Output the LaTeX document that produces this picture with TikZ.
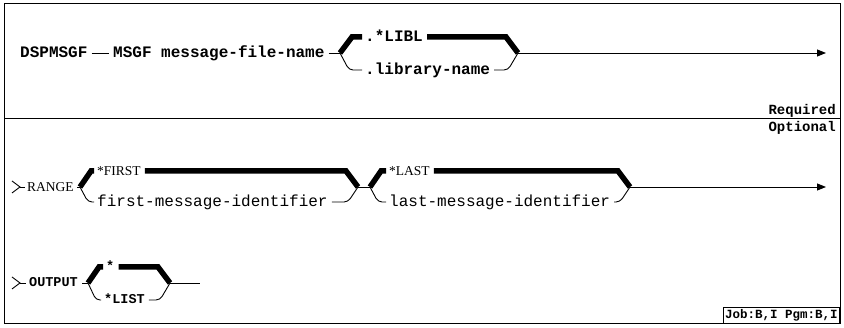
\documentclass[tikz,border=0pt]{standalone}
\usepackage{fontspec}
\setmonofont{Liberation Mono}
\newfontfamily\serifb{Liberation Serif}
\usetikzlibrary{arrows.meta}
\begin{document}
\begin{tikzpicture}[x=1pt,y=-1pt,
  lbl/.style={font=\ttfamily\bfseries\fontsize{16}{16}\selectfont, inner sep=0pt, anchor=west, text height=9pt, text depth=0pt},
  lbllight/.style={font=\ttfamily\fontsize{16}{16}\selectfont, inner sep=0pt, anchor=west, text height=9pt, text depth=0pt},
  lblsm/.style={font=\ttfamily\bfseries\fontsize{13.5}{13.5}\selectfont, inner sep=0pt, anchor=west, text height=8pt, text depth=0pt},
  slbl/.style={font=\serifb\fontsize{13.5}{13.5}\selectfont, inner sep=0pt, anchor=west, text height=9pt, text depth=0pt},
  small/.style={font=\ttfamily\bfseries\fontsize{14}{14}\selectfont, inner sep=0pt},
  thin/.style={line width=0.9pt, line cap=butt},
  heavy/.style={line width=5.5pt, line join=miter, line cap=butt},
  hook/.style={thin, rounded corners=4pt},
  frame/.style={line width=1pt},
  arr/.style={thin, -{Triangle[length=9pt,width=7pt]}},
  gap/.style={shorten <=4pt, shorten >=4pt}]
\useasboundingbox (0,0) rectangle (844,328);
% frames
\draw[frame] (4,4) rectangle (840,324);
\draw[frame] (4,119) -- (840,119);
\node[small, anchor=east] (req) at (836,111) {Required};
\node[small, anchor=east] (opt) at (836,128) {Optional};
\node[font=\ttfamily\bfseries\fontsize{12.5}{12.5}\selectfont, draw, line width=0.9pt, inner sep=2pt, minimum height=16pt, anchor=south east] (job) at (840,324) {Job:B,I Pgm:B,I};

% ---------- row 1 ----------
\node[lbl] (dsp) at (20,53) {DSPMSGF};
\node[lbl] (msgf) at (113,53) {MSGF message-file-name};
\draw[thin, gap] (dsp.east) -- (msgf.west);
\coordinate (j1) at (340,53);
\coordinate (j2) at (518,53);
\coordinate (arr1) at (826,53);
\node[lbl] (libl) at (365,37) {.*LIBL};
\node[lbl] (libn) at (365,70) {.library-name};
\draw[thin] (msgf.east) ++(4,0) -- (j1);
\draw[heavy] (j1) -- (352,37) -- ([xshift=-3pt]libl.west);
\draw[heavy] ([xshift=4pt]libl.east) -- (506,37) -- (j2);
\draw[hook] (j1) -- (349,70) -- ([xshift=-3pt]libn.west);
\draw[hook] ([xshift=4pt]libn.east) -- (508,70) -- (j2);
\draw[arr] (j2) -- (arr1);

% ---------- row 2 ----------
\coordinate (s2) at (12,181);
\coordinate (r2) at (20,187);
\node[slbl] (range) at (27,187) {RANGE};
\draw[thin] (s2) -- (r2) -- (12,193);
\draw[thin] (r2) -- ([xshift=-2pt]range.west);
\coordinate (ja) at (80,187);
\coordinate (jb) at (358,187);
\coordinate (jc) at (370,187);
\coordinate (jd) at (630,187);
\coordinate (arr2) at (826,187);
\draw[thin] ([xshift=3pt]range.east) -- (ja);
\node[slbl] (first) at (97,171) {*FIRST};
\node[lbllight] (firstid) at (97,202) {first-message-identifier};
\draw[heavy] (ja) -- (91,171) -- ([xshift=-3pt]first.west);
\draw[heavy] ([xshift=4pt]first.east) -- (346,171) -- (jb);
\draw[hook] (ja) -- (88,202) -- ([xshift=-3pt]firstid.west);
\draw[hook] ([xshift=4pt]firstid.east) -- (348,202) -- (jb);
\draw[thin] (jb) -- (jc);
\node[slbl] (last) at (389,171) {*LAST};
\node[lbllight] (lastid) at (389,202) {last-message-identifier};
\draw[heavy] (jc) -- (381,171) -- ([xshift=-3pt]last.west);
\draw[heavy] ([xshift=4pt]last.east) -- (618,171) -- (jd);
\draw[hook] (jc) -- (378,202) -- ([xshift=-3pt]lastid.west);
\draw[hook] ([xshift=4pt]lastid.east) -- (620,202) -- (jd);
\draw[arr] (jd) -- (arr2);

% ---------- row 3 ----------
\coordinate (s3) at (12,277);
\coordinate (r3) at (20,283);
\node[lblsm] (output) at (29,283) {OUTPUT};
\draw[thin] (s3) -- (r3) -- (12,289);
\draw[thin] (r3) -- ([xshift=-3pt]output.west);
\coordinate (je) at (88,283);
\coordinate (jf) at (170,283);
\coordinate (end3) at (200,283);
\draw[thin] ([xshift=4pt]output.east) -- (je);
\node[lblsm] (star) at (106,267) {*};
\node[lblsm] (list) at (104,300) {*LIST};
\draw[heavy] (je) -- (99,267) -- ([xshift=-3pt]star.west);
\draw[heavy] ([xshift=4pt]star.east) -- (158,267) -- (jf);
\draw[hook] (je) -- (96,300) -- ([xshift=-3pt]list.west);
\draw[hook] ([xshift=4pt]list.east) -- (160,300) -- (jf);
\draw[thin] (jf) -- (end3);
\end{tikzpicture}
\end{document}
